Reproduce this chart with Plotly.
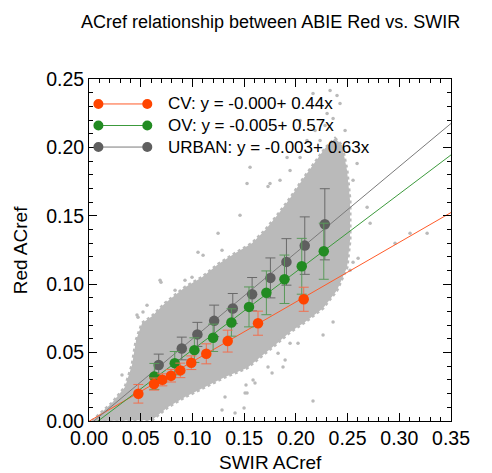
import plotly.graph_objects as go

# ---------------- data ----------------
# Mean Red ACref per SWIR bin with std error bars
cv_x = [0.0477, 0.0629, 0.0709, 0.0793, 0.0883, 0.0989, 0.1134, 0.1341, 0.1634, 0.2076]
cv_y = [0.0199, 0.0270, 0.0301, 0.0331, 0.0370, 0.0426, 0.0491, 0.0584, 0.0715, 0.0890]
cv_err = [0.0068, 0.0044, 0.0044, 0.0046, 0.0053, 0.0050, 0.0073, 0.0080, 0.0088, 0.0088]

ov_x = [0.0632, 0.0829, 0.1019, 0.1200, 0.1377, 0.1547, 0.1715, 0.1890, 0.2057, 0.2270]
ov_y = [0.0326, 0.0423, 0.0518, 0.0608, 0.0720, 0.0834, 0.0937, 0.1036, 0.1131, 0.1241]
ov_err = [0.0095, 0.0085, 0.0090, 0.0100, 0.0100, 0.0146, 0.0160, 0.0177, 0.0204, 0.0205]

ur_x = [0.0674, 0.0897, 0.1048, 0.1210, 0.1390, 0.1577, 0.1754, 0.1909, 0.2086, 0.2280]
ur_y = [0.0409, 0.0530, 0.0633, 0.0732, 0.0822, 0.0927, 0.1046, 0.1163, 0.1282, 0.1438]
ur_err = [0.0080, 0.0083, 0.0088, 0.0115, 0.0110, 0.0122, 0.0146, 0.0170, 0.0210, 0.0260]

# Linear fits: y = a + b x
fit_names = ["CV", "OV", "URBAN"]
fit_intercept = [-0.0002, -0.005, -0.003]
fit_slope = [0.436, 0.57, 0.63]
fit_labels = ["CV: y = -0.000+ 0.44x", "OV: y = -0.005+ 0.57x", "URBAN: y = -0.003+ 0.63x"]
fit_x_range = [0.0, 0.35]

# Outline of the dense cloud of all pixels (SWIR, Red)
cloud_x = [0.0029, 0.0222, 0.0348, 0.0416, 0.0455, 0.0513, 0.0609, 0.0735, 0.0928, 0.1093,
           0.1248, 0.1412, 0.1576, 0.1702, 0.1828, 0.1944, 0.2060, 0.2186, 0.2282, 0.2379,
           0.2447, 0.2495, 0.2524, 0.2524, 0.2495, 0.2398, 0.2263, 0.2089, 0.1944, 0.1799,
           0.1654, 0.1528, 0.1315, 0.1122, 0.0928, 0.0764, 0.0609, 0.0029]
cloud_y = [0.0000, 0.0131, 0.0248, 0.0409, 0.0591, 0.0715, 0.0766, 0.0861, 0.0978, 0.1051,
           0.1146, 0.1226, 0.1299, 0.1394, 0.1511, 0.1628, 0.1759, 0.1891, 0.1993, 0.2066,
           0.2015, 0.1832, 0.1613, 0.1321, 0.1124, 0.0956, 0.0825, 0.0723, 0.0650, 0.0555,
           0.0467, 0.0387, 0.0321, 0.0248, 0.0175, 0.0102, 0.0007, 0.0000]

# Sparse pixels outside the dense cloud
sparse_x = [0.1528, 0.1731, 0.1460, 0.1248, 0.1286, 0.1054, 0.1103, 0.0687, 0.0696, 0.0561,
            0.0474, 0.0319, 0.0928, 0.0996, 0.0832, 0.1286, 0.1412, 0.1315, 0.1509, 0.1605,
            0.1731, 0.1828, 0.2166, 0.1499, 0.1876, 0.1896, 0.1770, 0.1586, 0.1518, 0.1528,
            0.2263, 0.2360, 0.2021, 0.1944, 0.2602, 0.2524, 0.2553, 0.2689, 0.2959, 0.3104,
            0.3269, 0.2718, 0.2331, 0.2398, 0.2427, 0.2302, 0.2186, 0.2108, 0.2041, 0.1944,
            0.1915, 0.2166, 0.1557, 0.1750, 0.1847, 0.2592, 0.2553, 0.0464, 0.0522, 0.2282,
            0.2360, 0.2234, 0.2476, 0.2041]
sparse_y = [0.1737, 0.1715, 0.1504, 0.1372, 0.1248, 0.1234, 0.1212, 0.1029, 0.1015, 0.0847,
            0.0759, 0.0336, 0.1029, 0.1051, 0.0956, 0.0080, 0.0058, 0.0175, 0.0204, 0.0277,
            0.0394, 0.0496, 0.0146, 0.0095, 0.0394, 0.0445, 0.0350, 0.0299, 0.0263, 0.0204,
            0.0628, 0.0723, 0.0569, 0.0569, 0.1190, 0.1102, 0.1161, 0.1562, 0.1299, 0.1372,
            0.1372, 0.1445, 0.2416, 0.2380, 0.2321, 0.2248, 0.2124, 0.2051, 0.1927, 0.1832,
            0.1927, 0.2394, 0.1854, 0.1737, 0.1759, 0.1883, 0.1759, 0.0774, 0.0796, 0.2161,
            0.2212, 0.2051, 0.2124, 0.2197]

x_ticks = [0.00, 0.05, 0.10, 0.15, 0.20, 0.25, 0.30, 0.35]
y_ticks = [0.00, 0.05, 0.10, 0.15, 0.20, 0.25]

# ---------------- styling ----------------
FONT = "Liberation Sans, Arial, Helvetica, sans-serif"
CLOUD = "#bababa"
marker_col = ["#ff4500", "#228b22", "#5f5f5f"]
line_col = ["#ff5a28", "#3c9a3c", "#7a7a7a"]
err_col = ["#f07050", "#5a9a5a", "#6a6a6a"]

fig = go.Figure()

fig.add_trace(go.Scatter(x=cloud_x, y=cloud_y, mode="lines", fill="toself",
                         fillcolor=CLOUD, line=dict(color=CLOUD, width=3, dash="dot"),
                         hoverinfo="skip", showlegend=False))
fig.add_trace(go.Scatter(x=sparse_x, y=sparse_y, mode="markers",
                         marker=dict(color=CLOUD, size=3.5), hoverinfo="skip", showlegend=False))

groups = [(cv_x, cv_y, cv_err), (ov_x, ov_y, ov_err), (ur_x, ur_y, ur_err)]

for i in range(3):
    xs = fit_x_range
    ys = [fit_intercept[i] + fit_slope[i] * v for v in xs]
    fig.add_trace(go.Scatter(x=xs, y=ys, mode="lines",
                             line=dict(color=line_col[i], width=1),
                             hoverinfo="skip", showlegend=False))

for i in [2, 1, 0]:
    gx, gy, ge = groups[i]
    fig.add_trace(go.Scatter(x=gx, y=gy, mode="markers",
                             marker=dict(color=marker_col[i], size=10.5),
                             error_y=dict(type="data", array=ge, visible=True,
                                          color=err_col[i], thickness=1, width=5),
                             name=fit_names[i], showlegend=False))

# ---------------- legend drawn manually ----------------
shapes = []
annotations = []
leg_y = [0.927, 0.864, 0.801]
leg_x0, leg_x1, leg_tx = 0.026, 0.161, 0.212
for i in range(3):
    shapes.append(dict(type="line", xref="paper", yref="paper",
                       x0=leg_x0, x1=leg_x1, y0=leg_y[i], y1=leg_y[i],
                       line=dict(color=line_col[i], width=1)))
    for xc in (leg_x0, leg_x1):
        shapes.append(dict(type="circle", xref="paper", yref="paper",
                           xsizemode="pixel", ysizemode="pixel",
                           xanchor=xc, yanchor=leg_y[i],
                           x0=-5, x1=5, y0=-5, y1=5,
                           fillcolor=marker_col[i], line=dict(width=0)))
    annotations.append(dict(text=fit_labels[i], xref="paper", yref="paper",
                            x=leg_tx, y=leg_y[i], xanchor="left", yanchor="middle",
                            showarrow=False, font=dict(size=17, color="black", family=FONT)))

annotations.append(dict(text="ACref relationship between ABIE Red vs. SWIR",
                        xref="paper", yref="paper", x=0.5, y=1.167,
                        xanchor="center", yanchor="middle", showarrow=False,
                        font=dict(size=18, color="black", family=FONT)))
annotations.append(dict(text="SWIR ACref", xref="paper", yref="paper", x=0.5, y=-0.12,
                        xanchor="center", yanchor="middle", showarrow=False,
                        font=dict(size=19, color="black", family=FONT)))
annotations.append(dict(text="Red ACref", xref="paper", yref="paper", x=-0.19, y=0.5,
                        xanchor="center", yanchor="middle", showarrow=False, textangle=-90,
                        font=dict(size=19, color="black", family=FONT)))

axis_common = dict(showgrid=False, zeroline=False, showline=True, linecolor="black",
                   linewidth=1, mirror="allticks", ticks="inside", ticklen=8,
                   tickcolor="black", tickwidth=1, tickformat=".2f",
                   tickfont=dict(size=19.5, color="black", family=FONT),
                   minor=dict(ticks="inside", ticklen=4, dtick=0.01, tickcolor="black",
                              tickwidth=1, showgrid=False))

fig.update_layout(
    width=492, height=473,
    margin=dict(l=89, r=41, t=79, b=52),
    paper_bgcolor="white", plot_bgcolor="white",
    showlegend=False,
    xaxis=dict(range=[0, 0.35], tickvals=x_ticks, **axis_common),
    yaxis=dict(range=[0, 0.25], tickvals=y_ticks, **axis_common),
    shapes=shapes, annotations=annotations,
    font=dict(family=FONT),
)

fig.write_html("out.html", config={"displayModeBar": False},
               post_script="document.body.style.margin='0';")
